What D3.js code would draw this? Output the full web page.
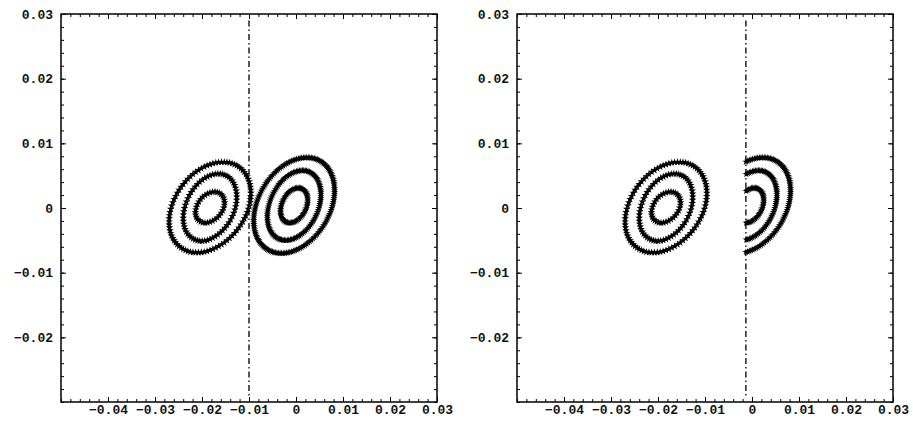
<!DOCTYPE html>
<html>
<head>
<meta charset="utf-8">
<script src="https://cdn.jsdelivr.net/npm/d3@7"></script>
<style>
  body { margin: 0; background: #fff; }
  svg text { font-family: "Liberation Mono", "DejaVu Sans Mono", monospace; font-weight: bold; font-size: 13px; fill: #111; }
</style>
</head>
<body>
<div id="chart"></div>
<script>
const W = 913;
const H = 421;

// axes
const xDomain = [-0.05, 0.03];
const yDomain = [-0.03, 0.03];
const xTicks = [-0.04, -0.03, -0.02, -0.01, 0, 0.01, 0.02, 0.03];
const xTickLabels = ["−0.04", "−0.03", "−0.02", "−0.01", "0", "0.01", "0.02", "0.03"];
const yTicks = [-0.02, -0.01, 0, 0.01, 0.02, 0.03];
const yTickLabels = ["−0.02", "−0.01", "0", "0.01", "0.02", "0.03"];

// dash-dot dividing line per panel (x position, y from/to)
const lineX = [-0.01, -0.0013];
const lineY = [0.029, -0.029];

// left ring set: center, half widths (x) and half heights (y) of the 3 rings
const leftCenter = [-0.0183, 0.0001];
const leftHalfW = [0.0087, 0.0057, 0.0031];
const leftHalfH = [0.0070, 0.0052, 0.0024];
const leftCounts = [88, 64, 36];

// right ring set
const rightCenter = [-0.0004, 0.0004];
const rightHalfW = [0.0086, 0.0057, 0.0029];
const rightHalfH = [0.0074, 0.0054, 0.0027];
const rightCounts = [150, 110, 64];

// tilt phase of rings
const tilt = 1.25;

const panels = [
  { x0: 61, x1: 437, clip: false, line: lineX[0] },
  { x0: 517, x1: 893, clip: true, line: lineX[1] }
];

const svg = d3.select("#chart").append("svg").attr("width", W).attr("height", H);

function ringPoints(c, hw, hh, n) {
  return d3.range(n).map((i) => {
    const t = (2 * Math.PI * i) / n;
    return [c[0] + hw * Math.cos(t), c[1] + hh * Math.cos(t - tilt)];
  });
}

const star = d3.symbol().type(d3.symbolStar);

panels.forEach((p) => {
  const x = d3.scaleLinear(xDomain, [p.x0, p.x1]);
  const y = d3.scaleLinear(yDomain, [402, 14]);
  const g = svg.append("g");

  // dash-dot line
  g.append("line")
    .attr("x1", x(p.line)).attr("x2", x(p.line))
    .attr("y1", y(lineY[0])).attr("y2", y(lineY[1]))
    .attr("stroke", "#111").attr("stroke-width", 1.4)
    .attr("stroke-dasharray", "6,3,1.5,3");

  // rings
  const sets = [
    { c: leftCenter, hw: leftHalfW, hh: leftHalfH, n: leftCounts, size: 18, clip: false },
    { c: rightCenter, hw: rightHalfW, hh: rightHalfH, n: rightCounts, size: 16, clip: p.clip }
  ];
  sets.forEach((s) => {
    s.hw.forEach((hw, k) => {
      let pts = ringPoints(s.c, hw, s.hh[k], s.n[k]);
      if (s.clip) pts = pts.filter((d) => d[0] >= p.line);
      g.append("g").selectAll("path")
        .data(pts)
        .join("path")
        .attr("transform", (d) => `translate(${x(d[0])},${y(d[1])})`)
        .attr("d", star.size(s.size)())
        .attr("fill", "#000");
    });
  });

  // frame
  g.append("rect")
    .attr("x", p.x0).attr("y", 14)
    .attr("width", p.x1 - p.x0).attr("height", 388)
    .attr("fill", "none").attr("stroke", "#000").attr("stroke-width", 1.5);

  // ticks inside the frame, all four sides
  const xMinor = d3.range(-0.05, 0.0301, 0.002);
  const yMinor = d3.range(-0.03, 0.0301, 0.002);
  const gx = g.append("g")
    .attr("transform", "translate(0,402)")
    .call(d3.axisBottom(x).tickValues(xTicks).tickSize(-5).tickFormat((d, i) => xTickLabels[i]).tickPadding(3));
  gx.select(".domain").remove();
  g.append("g").attr("transform", "translate(0,402)")
    .call(d3.axisBottom(x).tickValues(xMinor).tickSize(-3).tickFormat(""))
    .select(".domain").remove();
  g.append("g").attr("transform", "translate(0,14)")
    .call(d3.axisTop(x).tickValues(xMinor).tickSize(-3).tickFormat(""))
    .select(".domain").remove();
  g.append("g").attr("transform", "translate(0,14)")
    .call(d3.axisTop(x).tickValues(xTicks).tickSize(-5).tickFormat(""))
    .select(".domain").remove();

  const gy = g.append("g")
    .attr("transform", `translate(${p.x0},0)`)
    .call(d3.axisLeft(y).tickValues(yTicks).tickSize(-5).tickFormat((d, i) => yTickLabels[i]).tickPadding(8));
  gy.select(".domain").remove();
  g.append("g").attr("transform", `translate(${p.x0},0)`)
    .call(d3.axisLeft(y).tickValues(yMinor).tickSize(-3).tickFormat(""))
    .select(".domain").remove();
  g.append("g").attr("transform", `translate(${p.x1},0)`)
    .call(d3.axisRight(y).tickValues(yMinor).tickSize(-3).tickFormat(""))
    .select(".domain").remove();
  g.append("g").attr("transform", `translate(${p.x1},0)`)
    .call(d3.axisRight(y).tickValues(yTicks).tickSize(-5).tickFormat(""))
    .select(".domain").remove();

  g.selectAll(".tick line").attr("stroke", "#000").attr("stroke-width", 1);
  g.selectAll(".tick text").attr("font-size", null).attr("font-family", null);
});
</script>
</body>
</html>
